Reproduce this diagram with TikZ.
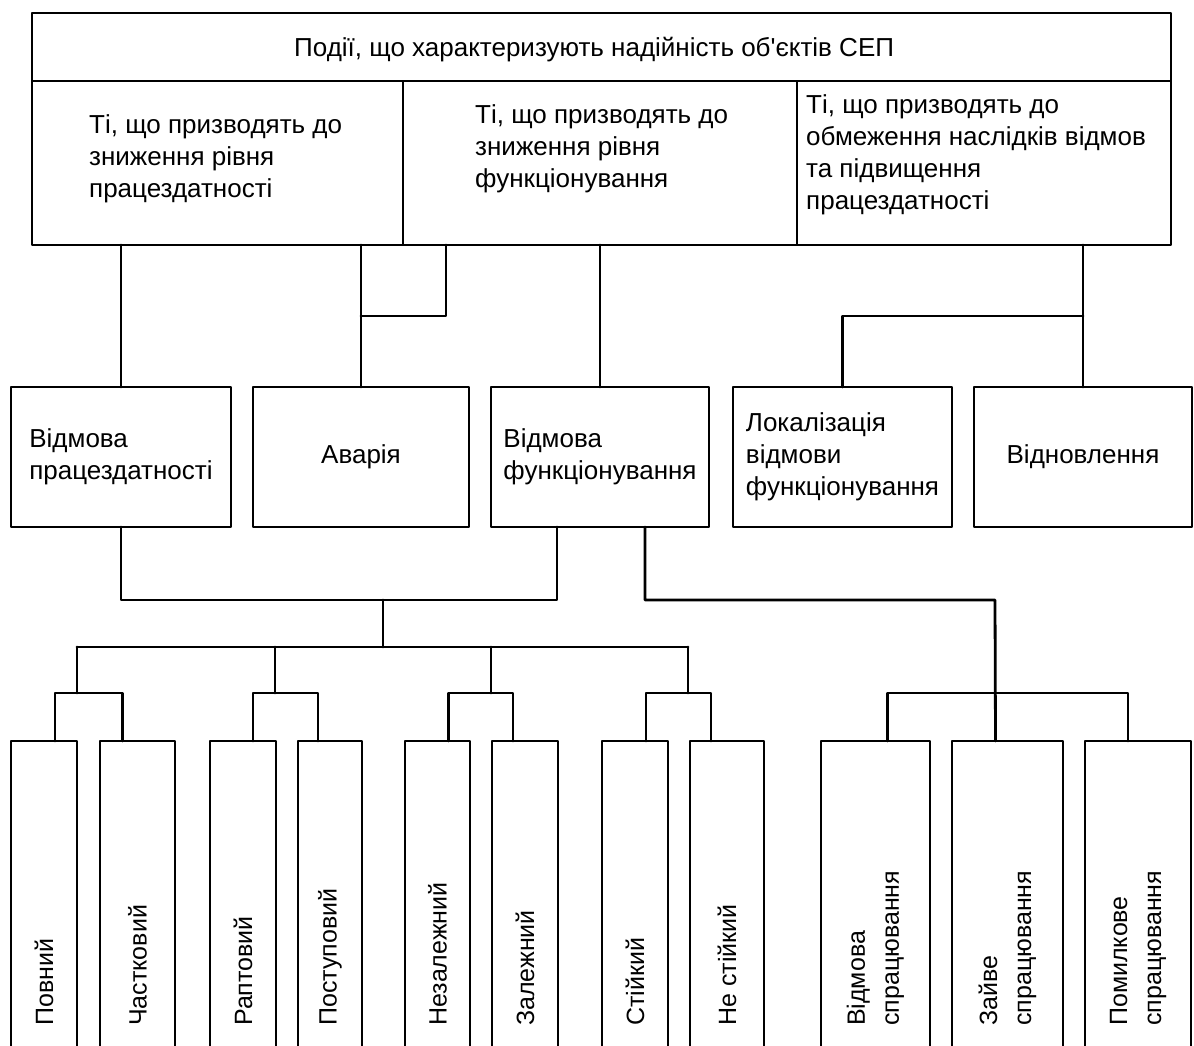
\documentclass[tikz,border=0pt]{standalone}
\usepackage{fontspec}
\setmainfont{Liberation Sans}
\usetikzlibrary{positioning}

\begin{document}
\begin{tikzpicture}[
  x=1pt, y=-1pt,
  line cap=round, line join=round,
  font=\fontsize{26}{32}\selectfont,
  frame/.style={draw, line width=2.8pt, anchor=north west,
                inner sep=0pt, outer sep=0pt, align=left},
  txt/.style={anchor=west, align=left, inner sep=0pt},
  vtxt/.style={rotate=90, anchor=west, align=left, inner sep=0pt,
               font=\fontsize{25}{34}\selectfont},
  wire/.style={draw, line width=2.8pt},
]
\useasboundingbox (0,0) rectangle (1194,1046);

% top block
\node[frame, minimum width=1139, minimum height=68] (title) at (32,13) {};
\node[frame, minimum width=371, minimum height=164] (grpA) at (32,81) {};
\node[frame, minimum width=394, minimum height=164] (grpB) at (403,81) {};
\node[frame, minimum width=374, minimum height=164] (grpC) at (797,81) {};

\node[txt] (titleT) at (294,50) {Події, що характеризують надійність об\textquotesingle єктів СЕП};
\node[txt] (grpAT) at (89,159) {Ті, що призводять до\\зниження рівня\\працездатності};
\node[txt] (grpBT) at (475,149) {Ті, що призводять до\\зниження рівня\\функціонування};
\node[txt] (grpCT) at (806,155) {Ті, що призводять до\\обмеження наслідків відмов\\та підвищення\\працездатності};

% middle row
\node[frame, minimum width=220, minimum height=140] (failW) at (11,387) {Відмова\\працездатності};
\node[frame, minimum width=216, minimum height=140] (crash) at (253,387) {Аварія};
\node[frame, minimum width=218, minimum height=140] (failF) at (491,387) {Відмова\\функціонування};
\node[frame, minimum width=219, minimum height=140] (local) at (733,387) {Локалізація\\відмови\\функціонування};
\node[frame, minimum width=218, minimum height=140] (restore) at (974,387) {Відновлення};

% bottom row
\node[frame, minimum width=66, minimum height=330] (full) at (11,741) {};
\node[frame, minimum width=75, minimum height=330] (part) at (100,741) {};
\node[frame, minimum width=66, minimum height=330] (sudden) at (210,741) {};
\node[frame, minimum width=64, minimum height=330] (gradual) at (298,741) {};
\node[frame, minimum width=65, minimum height=330] (indep) at (405,741) {};
\node[frame, minimum width=66, minimum height=330] (dep) at (492,741) {};
\node[frame, minimum width=66, minimum height=330] (stable) at (602,741) {};
\node[frame, minimum width=74, minimum height=330] (unstable) at (690,741) {};
\node[frame, minimum width=109, minimum height=330] (nofire) at (821,741) {};
\node[frame, minimum width=111, minimum height=330] (excess) at (952,741) {};
\node[frame, minimum width=106, minimum height=330] (wrong) at (1085,741) {};

\coordinate (base) at (0,1026);
\node[vtxt] (fullT) at (full |- base) {Повний};
\node[vtxt] (partT) at (part |- base) {Частковий};
\node[vtxt] (suddenT) at (sudden |- base) {Раптовий};
\node[vtxt] (gradualT) at (gradual |- base) {Поступовий};
\node[vtxt] (indepT) at (indep |- base) {Незалежний};
\node[vtxt] (depT) at (dep |- base) {Залежний};
\node[vtxt] (stableT) at (stable |- base) {Стійкий};
\node[vtxt] (unstableT) at (unstable |- base) {Не стійкий};
\node[vtxt] (nofireT) at (nofire |- base) {Відмова\\спрацювання};
\node[vtxt] (excessT) at (excess |- base) {Зайве\\спрацювання};
\node[vtxt] (wrongT) at (wrong |- base) {Помилкове\\спрацювання};

% upper wiring
\coordinate (kA) at (0,316);
\coordinate (kC) at (0,316);
\draw[wire] (failW.north |- grpA.south) -- (failW.north);
\draw[wire] (crash.north |- grpA.south) -- (crash.north);
\draw[wire] ([xshift=43]grpB.south west) |- (crash.north |- kA);
\draw[wire] (grpB.south) -- (failF.north);
\draw[wire] (restore.north |- grpC.south) -- (restore.north);
\draw[wire] (local.north) |- (restore.north |- kC);

% lower wiring
\coordinate (kD) at (383,600);
\coordinate (kE) at (383,647);
\coordinate (pA) at (77,693);
\coordinate (pB) at (275,693);
\coordinate (pC) at (491,693);
\coordinate (pD) at (688,693);
\coordinate (pE) at (995,693);
\draw[wire] (failW.south) |- ([xshift=-43]failF.south |- kD) -- ([xshift=-43]failF.south);
\draw[wire] (kD) -- (kE);
\draw[wire] (pA |- kE) -- (pD |- kE);
\foreach \p in {pA,pB,pC,pD}
  \draw[wire] (\p |- kE) -- (\p);
\draw[wire] ([xshift=11]full.north) |- (pA) -| ([xshift=-15]part.north);
\draw[wire] ([xshift=10]sudden.north) |- (pB) -| ([xshift=-12]gradual.north);
\draw[wire] ([xshift=11]indep.north) |- (pC) -| ([xshift=-12]dep.north);
\draw[wire] ([xshift=11]stable.north) |- (pD) -| ([xshift=-16]unstable.north);
\draw[wire] ([xshift=45]failF.south) |- (pE |- kD) -- ([xshift=-12]excess.north);
\draw[wire] ([xshift=12]nofire.north) |- (pE) -| ([xshift=-10]wrong.north);
\end{tikzpicture}
\end{document}
